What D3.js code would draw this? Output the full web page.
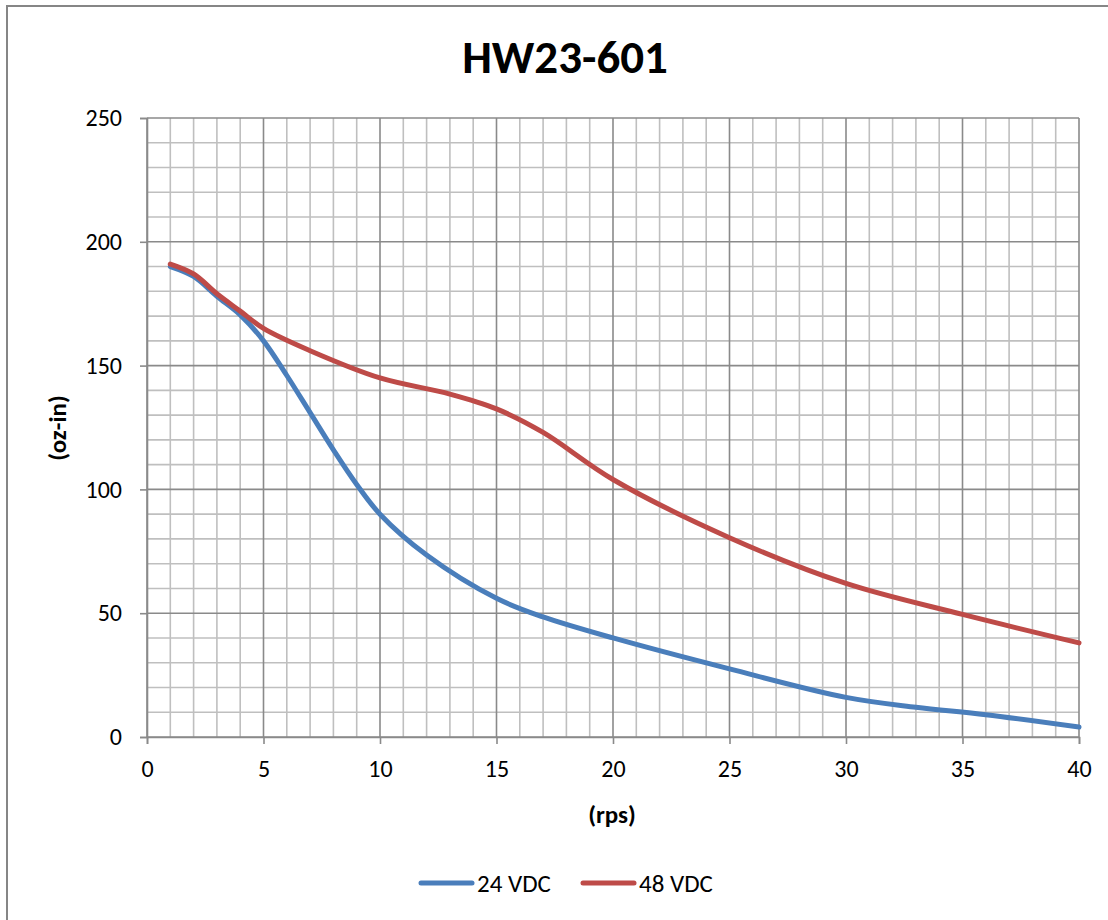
<!DOCTYPE html>
<html><head><meta charset="utf-8">
<script src="https://cdn.jsdelivr.net/npm/d3@7"></script>
<style>body{margin:0;background:#fff}svg{display:block}text{font-family:Carlito,Calibri,Lato,sans-serif}</style>
</head><body><svg id="c" width="1108" height="920"></svg>
<script>
const title = "HW23-601";
const xLabel = "(rps)";
const yLabel = "(oz-in)";
const xTicks = [0,5,10,15,20,25,30,35,40];
const yTicks = [0,50,100,150,200,250];
const seriesNames = ["24 VDC","48 VDC"];
const seriesColors = ["#4A7EBB","#BE4B48"];
const rps24 = [1,2,3,4,5,6,7,8,9,10,12,15,17,20,25,30,33,36,40];
const v24 = [190,186,178,170.5,160,146,131,116,102,90,73.5,56,48.5,40,27.5,16,12,9,4];
const rps48 = [1,2,3,4,5,7,10,13,15,17,20,25,30,35,40];
const v48 = [191,187,179,172,165,156,145,138.5,132.5,123,104,80.5,62,49.5,38];

const svg = d3.select("#c");
const L=147,R=1079,T=118,B=737;
const x = d3.scaleLinear().domain([0,40]).range([L,R]);
const y = d3.scaleLinear().domain([0,250]).range([B,T]);

svg.append("rect").attr("x",7).attr("y",6).attr("width",1108).attr("height",920)
  .attr("fill","#fff").attr("stroke","#868686").attr("stroke-width",2);

const g = svg.append("g");
g.selectAll(".mx").data(d3.range(0,41,1).filter(d=>d%5)).join("line")
  .attr("x1",d=>x(d)).attr("x2",d=>x(d)).attr("y1",T).attr("y2",B)
  .attr("stroke","#BFBFBF").attr("stroke-width",1.6);
g.selectAll(".my").data(d3.range(0,251,10).filter(d=>d%50)).join("line")
  .attr("y1",d=>y(d)).attr("y2",d=>y(d)).attr("x1",L).attr("x2",R)
  .attr("stroke","#BFBFBF").attr("stroke-width",1.6);
g.selectAll(".Mx").data(xTicks).join("line")
  .attr("x1",d=>x(d)).attr("x2",d=>x(d)).attr("y1",T).attr("y2",B)
  .attr("stroke","#8A8A8A").attr("stroke-width",1.6);
g.selectAll(".My").data(yTicks).join("line")
  .attr("y1",d=>y(d)).attr("y2",d=>y(d)).attr("x1",L).attr("x2",R)
  .attr("stroke","#8A8A8A").attr("stroke-width",1.6);

const xa = svg.append("g").attr("transform",`translate(0,${B})`)
  .call(d3.axisBottom(x).tickValues(xTicks).tickSize(7).tickPadding(16));
const ya = svg.append("g").attr("transform",`translate(${L},0)`)
  .call(d3.axisLeft(y).tickValues(yTicks).tickSize(7).tickPadding(18));
[xa,ya].forEach(a=>{
  a.attr("font-size",null).attr("font-family",null);
  a.select(".domain").attr("stroke","#8A8A8A").attr("stroke-width",1.6);
  a.selectAll(".tick line").attr("stroke","#8A8A8A").attr("stroke-width",1.6);
  a.selectAll("text").attr("fill","#000").style("font-size","24px")
   .style("font-family","Carlito,Calibri,Lato,sans-serif");
});

const line = d3.line().x(d=>x(d[0])).y(d=>y(d[1])).curve(d3.curveCatmullRom.alpha(0.5));
[[rps24,v24],[rps48,v48]].forEach(([xs,vals],i)=>{
  svg.append("path").datum(xs.map((r,j)=>[r,vals[j]])).attr("d",line)
    .attr("fill","none").attr("stroke",seriesColors[i]).attr("stroke-width",5)
    .attr("stroke-linecap","round").attr("stroke-linejoin","round");
});

svg.append("text").attr("x",565).attr("y",73).attr("text-anchor","middle")
  .style("font-size","47px").attr("font-weight","bold").text(title);
svg.append("text").attr("x",612).attr("y",823).attr("text-anchor","middle")
  .style("font-size","25px").attr("font-weight","bold").text(xLabel);
svg.append("text").attr("transform","translate(66,428) rotate(-90)").attr("text-anchor","middle")
  .style("font-size","25px").attr("font-weight","bold").text(yLabel);

const legX = [419,581];
seriesNames.forEach((n,i)=>{
  svg.append("line").attr("x1",legX[i]+2).attr("x2",legX[i]+53).attr("y1",883).attr("y2",883)
    .attr("stroke",seriesColors[i]).attr("stroke-width",5).attr("stroke-linecap","round");
  svg.append("text").attr("x",legX[i]+58).attr("y",892).style("font-size","25px").text(n);
});
</script></body></html>
